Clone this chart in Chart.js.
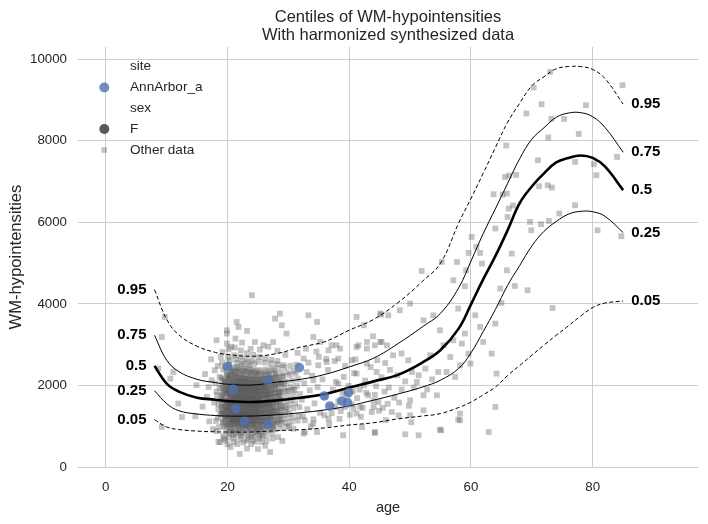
<!DOCTYPE html>
<html><head><meta charset="utf-8">
<script src="https://cdn.jsdelivr.net/npm/chart.js@4"></script>
<style>html,body{margin:0;padding:0;background:#fff}canvas{display:block}</style>
</head><body>
<canvas id="c" width="708" height="524"></canvas>
<script>
// ---------- data ----------
const ages = [8,10,12,15,18,20,24,28,32,36,40,44,48,52,55,58,60,62,64,66,68,70,72,74,76,78,80,82,85];
const c05 = [1160,981,920,880,862,858,858,890,915,960,1030,1085,1180,1250,1310,1460,1590,1770,1960,2240,2490,2740,2990,3230,3460,3700,3910,4020,4070];
const c25 = [1870,1555,1380,1300,1262,1250,1250,1280,1330,1400,1500,1640,1790,1960,2130,2420,2800,3320,3860,4450,4940,5420,5780,6020,6200,6270,6260,6150,5750];
const c50 = [2480,2045,1850,1700,1650,1615,1595,1630,1700,1790,1950,2100,2260,2560,2870,3400,3990,4600,5170,5800,6470,6880,7200,7470,7580,7640,7580,7370,6790];
const c75 = [3230,2620,2340,2150,2070,2030,2010,2080,2150,2270,2455,2670,3025,3436,3770,4400,5050,5720,6330,6950,7560,8040,8320,8575,8680,8690,8590,8330,7720];
const c95 = [4350,3620,3240,2960,2810,2760,2715,2780,2940,3075,3355,3620,4030,4550,5000,5990,6585,7200,7830,8450,8920,9350,9570,9765,9820,9820,9750,9530,8900];
const centileNames = ['0.05','0.25','0.5','0.75','0.95'];
const xTicks = [0,20,40,60,80];
const yTicks = [0,2000,4000,6000,8000,10000];
const titleLines = ['Centiles of WM-hypointensities','With harmonized synthesized data'];
const xLabel = 'age';
const yLabel = 'WM-hypointensities';

const annArbor = [[20.0,2470],[20.9,1913],[21.4,1423],[22.8,1121],[26.6,2127],[26.6,1047],[31.8,2438],[35.9,1742],[36.8,1496],[38.8,1619],[39.7,1579],[39.9,1825]];

const clusterData = [
[18.2,1850],[18.5,1420],[18.7,2210],[18.1,1130],[18.9,1650],[18.4,2480],[18.6,980],[18.3,1760],[18.8,1290],[18.0,2050],[18.5,1550],[18.9,2700],[18.2,880],[18.7,1940],[18.4,1210],
[19.1,1520],[19.4,1880],[19.7,1240],[19.2,2130],[19.9,1610],[19.5,990],[19.3,2390],[19.8,1410],[19.0,1730],[19.6,2010],[19.2,1090],[19.9,2270],[19.4,1330],[19.7,1790],[19.1,2560],[19.5,1460],[19.8,870],[19.3,1950],[19.6,1180],[19.0,2180],[19.4,1650],[19.9,1020],[19.2,2820],[19.7,1560],[19.5,2090],[19.1,1370],[19.8,1850],[19.3,760],[19.6,2460],[19.0,1290],
[20.1,1480],[20.4,1920],[20.7,1150],[20.2,2240],[20.9,1690],[20.5,1030],[20.3,2510],[20.8,1380],[20.0,1810],[20.6,2070],[20.2,1220],[20.9,2330],[20.4,1590],[20.7,1850],[20.1,2680],[20.5,1310],[20.8,910],[20.3,2000],[20.6,1440],[20.0,2190],[20.4,1710],[20.9,1080],[20.2,2890],[20.7,1620],[20.5,2150],[20.1,1260],[20.8,1980],[20.3,820],[20.6,2410],[20.0,1350],[20.4,1760],[20.9,1530],[20.2,1900],[20.7,1190],[20.5,2280],[20.1,1640],[20.8,2060],[20.3,1400],[20.6,960],[20.0,1570],[20.4,2620],[20.9,1880],[20.2,1110],[20.7,2370],[20.5,1490],
[21.1,1540],[21.4,1960],[21.7,1170],[21.2,2260],[21.9,1720],[21.5,1050],[21.3,2450],[21.8,1400],[21.0,1830],[21.6,2110],[21.2,1250],[21.9,2350],[21.4,1610],[21.7,1870],[21.1,2740],[21.5,1330],[21.8,940],[21.3,2030],[21.6,1460],[21.0,2210],[21.4,1740],[21.9,1100],[21.2,2930],[21.7,1650],[21.5,2170],[21.1,1280],[21.8,2000],[21.3,850],[21.6,2430],[21.0,1370],[21.4,1790],[21.9,1560],[21.2,1920],[21.7,1210],[21.5,2300],[21.1,1670],[21.8,2080],[21.3,1420],[21.6,1000],[21.0,1590],[21.4,2640],[21.9,1900],[21.2,1130],[21.7,2390],[21.5,1510],[21.1,710],[21.8,1300],[21.3,1680],[21.6,2550],[21.0,1060],
[22.1,1500],[22.4,1930],[22.7,1140],[22.2,2230],[22.9,1700],[22.5,1020],[22.3,2480],[22.8,1370],[22.0,1800],[22.6,2090],[22.2,1230],[22.9,2320],[22.4,1580],[22.7,1840],[22.1,2710],[22.5,1300],[22.8,920],[22.3,2010],[22.6,1430],[22.0,2180],[22.4,1720],[22.9,1070],[22.2,2860],[22.7,1630],[22.5,2140],[22.1,1270],[22.8,1970],[22.3,800],[22.6,2400],[22.0,1340],[22.4,1770],[22.9,1540],[22.2,1910],[22.7,1180],[22.5,2270],[22.1,1650],[22.8,2050],[22.3,1390],[22.6,970],[22.0,1580],[22.4,2600],[22.9,1870],[22.2,1100],[22.7,2360],[22.5,1480],[22.1,680],[22.8,1280],[22.3,1660],[22.6,2530],[22.0,1040],
[23.1,1470],[23.4,1900],[23.7,1120],[23.2,2200],[23.9,1680],[23.5,1000],[23.3,2430],[23.8,1350],[23.0,1780],[23.6,2060],[23.2,1210],[23.9,2290],[23.4,1560],[23.7,1820],[23.1,2650],[23.5,1290],[23.8,900],[23.3,1990],[23.6,1410],[23.0,2160],[23.4,1700],[23.9,1050],[23.2,2790],[23.7,1610],[23.5,2120],[23.1,1250],[23.8,1950],[23.3,780],[23.6,2380],[23.0,1320],[23.4,1750],[23.9,1520],[23.2,1890],[23.7,1160],[23.5,2250],[23.1,1630],[23.8,2030],[23.3,1370],[23.6,950],[23.0,1560],[23.4,2570],[23.9,1850],[23.2,1080],[23.7,2340],[23.5,1460],[23.1,650],[23.8,1260],[23.3,1640],[23.6,2500],[23.0,1020],
[24.1,1450],[24.4,1880],[24.7,1100],[24.2,2180],[24.9,1660],[24.5,990],[24.3,2400],[24.8,1340],[24.0,1760],[24.6,2040],[24.2,1200],[24.9,2270],[24.4,1540],[24.7,1800],[24.1,2610],[24.5,1280],[24.8,890],[24.3,1970],[24.6,1400],[24.0,2140],[24.4,1690],[24.9,1040],[24.2,2750],[24.7,1600],[24.5,2100],[24.1,1240],[24.8,1930],[24.3,770],[24.6,2360],[24.0,1310],[24.4,1740],[24.9,1510],[24.2,1870],[24.7,1150],[24.5,2230],[24.1,1620],[24.8,2010],[24.3,1360],[24.6,940],[24.0,1550],[24.4,2540],[24.9,1840],[24.2,1070],[24.7,2320],[24.5,1450],
[25.1,1430],[25.4,1860],[25.7,1090],[25.2,2160],[25.9,1650],[25.5,980],[25.3,2380],[25.8,1330],[25.0,1750],[25.6,2020],[25.2,1190],[25.9,2250],[25.4,1530],[25.7,1790],[25.1,2580],[25.5,1270],[25.8,880],[25.3,1960],[25.6,1390],[25.0,2130],[25.4,1680],[25.9,1030],[25.2,2700],[25.7,1590],[25.5,2090],[25.1,1230],[25.8,1920],[25.3,760],[25.6,2340],[25.0,1300],[25.4,1730],[25.9,1500],[25.2,1860],[25.7,1140],[25.5,2220],[25.1,1610],[25.8,2000],[25.3,1350],[25.6,930],[25.0,1540],
[26.1,1440],[26.4,1870],[26.7,1110],[26.2,2170],[26.9,1670],[26.5,1000],[26.3,2390],[26.8,1350],[26.0,1770],[26.6,2030],[26.2,1210],[26.9,2260],[26.4,1550],[26.7,1810],[26.1,2560],[26.5,1290],[26.8,900],[26.3,1980],[26.6,1410],[26.0,2150],[26.4,1700],[26.9,1060],[26.2,2660],[26.7,1610],[26.5,2110],[26.1,1250],[26.8,1940],[26.3,790],[26.6,2350],[26.0,1320],[26.4,1750],[26.9,1520],[26.2,1880],[26.7,1170],[26.5,2240],
[27.1,1460],[27.4,1890],[27.7,1130],[27.2,2190],[27.9,1690],[27.5,1020],[27.3,2410],[27.8,1370],[27.0,1790],[27.6,2050],[27.2,1230],[27.9,2280],[27.4,1570],[27.7,1830],[27.1,2540],[27.5,1310],[27.8,920],[27.3,2000],[27.6,1430],[27.0,2170],[27.4,1720],[27.9,1080],[27.2,2630],[27.7,1630],[27.5,2130],[27.1,1270],[27.8,1960],[27.3,820],[27.6,2370],[27.0,1340],
[28.1,1480],[28.4,1910],[28.7,1160],[28.2,2210],[28.9,1710],[28.5,1050],[28.3,2430],[28.8,1390],[28.0,1810],[28.6,2070],[28.2,1250],[28.9,2300],[28.4,1590],[28.7,1850],[28.1,2520],[28.5,1330],[28.8,950],[28.3,2020],[28.6,1450],[28.0,2190],[28.4,1740],[28.9,1110],[28.2,2600],[28.7,1650],[28.5,2150],
[29.1,1500],[29.4,1930],[29.7,1190],[29.2,2230],[29.9,1730],[29.5,1080],[29.3,2450],[29.8,1410],[29.0,1830],[29.6,2090],[29.2,1270],[29.9,2320],[29.4,1610],[29.7,1870],[29.1,2500],[29.5,1350],[29.8,980],[29.3,2040],[29.6,1470],[29.0,2210],
[30.1,1530],[30.4,1960],[30.7,1220],[30.2,2260],[30.9,1760],[30.5,1110],[30.3,2480],[30.8,1440],[30.0,1860],[30.6,2120],[30.2,1300],[30.9,2350],[30.4,1640],[30.7,1900],[30.1,1010],
[31.1,1560],[31.4,1990],[31.7,1250],[31.2,2290],[31.9,1790],[31.5,1140],[31.3,2510],[31.8,1470],[31.0,1890],[31.6,2150]
];

const coreData = [
[19.05,1480],[19.35,1710],[19.65,1260],[19.85,1940],[19.25,1120],[19.55,2150],[19.75,1390],[19.15,1830],[19.45,1010],[19.95,1600],
[20.05,1470],[20.35,1780],[20.65,1210],[20.85,2010],[20.25,1090],[20.55,2230],[20.75,1350],[20.15,1880],[20.45,960],[20.95,1640],[20.3,1560],[20.6,1930],[20.8,1180],[20.1,2120],[20.4,870],
[21.05,1500],[21.35,1750],[21.65,1230],[21.85,2040],[21.25,1060],[21.55,2200],[21.75,1380],[21.15,1860],[21.45,930],[21.95,1620],[21.3,1560],[21.6,1910],[21.8,1160],[21.1,2100],[21.4,820],[21.7,1440],[21.2,1690],[21.5,1300],[21.9,1990],[21.0,1150],
[22.05,1490],[22.35,1730],[22.65,1250],[22.85,2020],[22.25,1080],[22.55,2180],[22.75,1360],[22.15,1850],[22.45,950],[22.95,1610],[22.3,1570],[22.6,1900],[22.8,1170],[22.1,2090],[22.4,840],[22.7,1450],[22.2,1700],[22.5,1310],[22.9,1980],[22.0,1140],
[23.05,1470],[23.35,1720],[23.65,1240],[23.85,2000],[23.25,1070],[23.55,2160],[23.75,1340],[23.15,1830],[23.45,940],[23.95,1590],[23.3,1550],[23.6,1880],[23.8,1150],[23.1,2070],[23.4,830],[23.7,1430],[23.2,1680],[23.5,1290],[23.9,1960],[23.0,1130],
[24.05,1460],[24.35,1700],[24.65,1220],[24.85,1980],[24.25,1060],[24.55,2140],[24.75,1330],[24.15,1810],[24.45,930],[24.95,1580],[24.3,1540],[24.6,1870],[24.8,1140],[24.1,2050],[24.4,820],[24.7,1420],[24.2,1670],[24.5,1280],[24.9,1950],[24.0,1120],
[25.05,1450],[25.35,1690],[25.65,1210],[25.85,1970],[25.25,1050],[25.55,2120],[25.75,1320],[25.15,1800],[25.45,920],[25.95,1570],[25.3,1530],[25.6,1860],[25.8,1130],[25.1,2040],[25.4,810],
[26.05,1460],[26.35,1700],[26.65,1230],[26.85,1990],[26.25,1070],[26.55,2150],[26.75,1340],[26.15,1820],[26.45,940],[26.95,1590],[26.3,1550],[26.6,1880],
[27.05,1480],[27.35,1720],[27.65,1250],[27.85,2010],[27.25,1090],[27.55,2170],[27.75,1360],[27.15,1840],[27.45,960],[27.95,1610],
[28.05,1500],[28.35,1740],[28.65,1270],[28.85,2030],[28.25,1110],[28.55,1860],
[19.6,650],[20.2,720],[21.6,560],[22.6,600],[23.4,690],[24.6,620],[25.2,700],[26.4,650],[20.9,780],[22.2,760],[23.9,740],[25.8,760],[27.4,700],[21.9,880],[24.9,860],
[19.15,1320],[19.45,1560],[19.75,2060],[19.25,1780],[19.55,1150],[19.85,2320],[19.35,1430],[19.65,1890],[19.95,1250],[19.05,2000],
[20.15,1360],[20.45,1610],[20.75,2090],[20.25,1810],[20.55,1170],[20.85,2350],[20.35,1460],[20.65,1910],[20.95,1270],[20.05,2030],[20.2,1050],[20.5,1720],[20.8,1540],[20.3,2180],[20.6,1320],
[21.15,1340],[21.45,1590],[21.75,2070],[21.25,1790],[21.55,1190],[21.85,2330],[21.35,1480],[21.65,1930],[21.95,1290],[21.05,2010],[21.2,1070],[21.5,1740],[21.8,1520],[21.3,2200],[21.6,1340],[21.9,1640],[21.1,1890],[21.4,1210],
[22.15,1350],[22.45,1600],[22.75,2080],[22.25,1800],[22.55,1160],[22.85,2340],[22.35,1470],[22.65,1920],[22.95,1260],[22.05,2000],[22.2,1060],[22.5,1730],[22.8,1530],[22.3,2190],[22.6,1330],[22.9,1650],[22.1,1880],[22.4,1220],
[23.15,1330],[23.45,1580],[23.75,2050],[23.25,1770],[23.55,1140],[23.85,2310],[23.35,1450],[23.65,1900],[23.95,1240],[23.05,1980],[23.2,1040],[23.5,1710],[23.8,1510],[23.3,2170],[23.6,1310],[23.9,1630],[23.1,1860],[23.4,1200],
[24.15,1320],[24.45,1570],[24.75,2040],[24.25,1760],[24.55,1130],[24.85,2290],[24.35,1440],[24.65,1890],[24.95,1230],[24.05,1970],[24.2,1030],[24.5,1700],[24.8,1500],[24.3,2160],[24.6,1300],[24.9,1620],
[25.15,1310],[25.45,1560],[25.75,2030],[25.25,1750],[25.55,1120],[25.85,2280],[25.35,1430],[25.65,1880],[25.95,1220],[25.05,1960],[25.2,1020],[25.5,1690],[25.8,1490],[25.3,2150],
[26.15,1320],[26.45,1570],[26.75,2040],[26.25,1760],[26.55,1130],[26.85,2290],[26.35,1440],[26.65,1890],[26.95,1230],[26.05,1970],[26.5,1700],[26.8,1500],
[27.15,1340],[27.45,1590],[27.75,2060],[27.25,1780],[27.55,1150],[27.85,2300],[27.35,1460],[27.65,1910],
[28.15,1360],[28.45,1610],[28.75,2080],[28.25,1800],[28.55,1170],[28.85,1480]
];

const sparseData = [
[8.6,2414],[9.7,3680],[9.2,3189],[11.1,2330],[10.6,2168],[14.9,2004],[11.9,1555],[12.5,1226],[14.7,1244],[9.2,981],[17.9,2372],[17.4,2127],[16.6,1720],[15.9,1480],[17.0,1120],[17.3,2640],[16.3,2280],[17.6,930],[17.8,1580],[16.9,1960],
[18.2,3108],[19.9,3272],[19.9,3027],[21.5,3557],[21.8,3434],[23.2,3336],[24.0,4212],[24.5,3066],[25.9,2985],[19.9,3353],[27.8,3640],[28.6,3763],[33.3,3721],[34.7,3557],[29.7,3272],[27.5,3066],[34.1,3189],[37.9,2985],[28.9,3476],[35.2,3066],[36.6,2862],[38.5,2904],[37.1,2985],[41.2,3680],[42.9,2904],[45.1,3763],[46.4,3721],[44.2,2985],[41.5,2985],[32.5,2659],[34.9,2495],[36.3,2576],[38.2,2659],[40.4,2617],[41.2,2291],[42.9,2536],[44.5,2330],[38.2,2045],[33.0,2330],[34.1,2127],
[20.6,2950],[22.4,3050],[23.8,2900],[25.3,2880],[26.7,2950],[28.2,2850],[21.3,3150],[29.5,2750],
[18.8,613],[20.0,557],[27.3,981],[27.0,368],[23.2,451],[21.0,613],[18.5,613],[24.2,655],[25.6,613],[28.3,736],[32.5,819],[34.7,859],[39.0,778],[40.7,1432],[32.7,1145],[36.6,1187],[37.7,1472],[39.3,1472],[41.2,1310],[41.8,1472],[44.0,1472],[44.8,1594],[42.1,981],[44.2,858],[32.7,858],[34.1,1064],[30.8,941],[22.0,320],[25.0,440],[20.5,490],[26.2,520],[23.9,560],[19.4,700],[29.0,640],
[32.2,1650],[32.6,2050],[33.1,1420],[33.5,1880],[33.9,2240],[34.3,1560],[34.8,1960],[35.2,1330],[35.6,2150],[36.0,1720],[36.5,2380],[36.9,1480],[37.3,1900],[37.8,2090],[38.2,1610],[38.6,1370],[39.1,2210],[39.5,1780],[39.9,1990],[40.4,1540],[40.8,2300],[41.3,1690],[41.7,1900],[42.2,1450],[42.6,2120],[43.1,1760],[43.5,2450],[44.0,1620],[44.4,1980],[44.9,1380],[45.3,2200],[45.8,1850],[46.3,1550],[46.7,2380],[32.4,1240],[33.3,2560],[34.1,1170],[35.0,2700],[35.9,1270],[36.7,1060],[37.6,2600],[38.4,1180],[39.3,2480],[40.1,1280],[41.0,2640],[41.9,1230],[42.8,1820],[43.7,1350],[44.6,2620],[45.5,1450],[46.5,1950],[47.4,1700],[47.9,2250],[48.6,1900],[49.2,2100],[49.8,1500],[31.5,2800],[32.9,2900],[33.7,1000],[34.6,2830],[36.2,2650],[37.1,1320],[38.9,1820],[40.6,1860],[42.4,2000],[44.2,1770],[45.9,2550],[47.0,1350],[48.2,1580],[50.6,1950],[51.4,2250],[52.8,1900],[53.6,2150],[50.2,1100],[46.0,1150],
[63.7,6689],[65.9,6706],[66.2,6338],[64.0,5848],[60.1,5642],[59.6,5250],[61.5,5250],[61.8,4989],[57.7,5029],[55.2,5029],[51.9,4808],[57.1,4580],[59.0,4433],[65.9,4825],[64.8,4376],[50.0,4008],[48.3,3844],[53.8,3721],[57.9,3885],[60.7,3721],[64.0,3517],[52.2,3598],[54.9,3353],[59.0,3272],[61.5,3434],[62.0,3066],[63.4,2781],[57.1,3108],[58.5,3027],[59.6,2781],[55.5,2985],[53.3,2740],[56.6,2698],[59.9,2536],[58.2,2495],[52.5,2414],[49.7,2617],[50.3,2330],[54.6,2330],[56.0,2330],[57.4,2208],[51.1,2085],[48.6,2781],[47.2,2740],[46.2,2985],[45.1,3066],[54.4,1759],[52.2,1759],[50.0,1636],[52.2,1391],[50.0,1268],[48.1,1268],[58.2,1310],[58.2,1145],[54.9,917],[51.4,778],[49.2,802],[62.9,858],[64.0,1472],[64.2,2291],[73.4,3900],[65.0,4023],[67.2,4440],[69.3,4335],[45.2,3739],[42.4,3476],[43.9,3206],[45.3,3066],[42.9,3066],[41.2,2944],[55.1,900],[44.2,834],[57.9,1163],[60.9,5396],[66.7,5234],[59.2,4825],
[73.0,9689],[70.3,9307],[71.6,8897],[69.1,8669],[73.2,8537],[75.3,8537],[78.9,8873],[84.9,9363],[77.7,8168],[72.7,8080],[65.8,7884],[84.0,7604],[71.0,7523],[77.1,7481],[80.2,7425],[80.6,7155],[65.6,7114],[66.3,7148],[67.4,7163],[71.2,6886],[72.6,6910],[73.3,6853],[65.2,6681],[66.9,6412],[66.0,6133],[77.1,6420],[74.5,6215],[69.7,6010],[71.5,5953],[72.8,6035],[69.9,5806],[80.8,5806],[84.7,5659]
];

// ---------- styling ----------
const FONT = "'Liberation Sans', Arial, Helvetica, sans-serif";
const TXT = '#262626';
const GRAY = 'rgba(90,90,90,0.36)';
const BLUE = 'rgba(76,114,176,0.8)';
const centileSeries = [c05, c25, c50, c75, c95];
const lineWidths = [1, 1, 2.6, 1, 1];
const lineDashes = [[4,2.5], [], [], [], [4,2.5]];

const toXY = arr => arr.map(p => ({x: p[0], y: p[1]}));

const datasets = centileSeries.map((c, i) => ({
  type: 'line',
  label: centileNames[i],
  data: ages.map((a, j) => ({x: a, y: c[j]})),
  borderColor: '#000',
  borderWidth: lineWidths[i],
  borderDash: lineDashes[i],
  pointRadius: 0,
  fill: false,
  tension: 0.4,
  order: 5
}));
datasets.push({
  type: 'scatter', label: 'Other data',
  data: toXY(sparseData.concat(clusterData, coreData)),
  pointStyle: 'rect', pointRadius: 4.1,
  backgroundColor: GRAY, borderWidth: 0, order: 10
});
datasets.push({
  type: 'scatter', label: 'AnnArbor_a',
  data: toXY(annArbor),
  pointStyle: 'circle', pointRadius: 4.8,
  backgroundColor: BLUE, borderWidth: 0, order: 1
});

const decorPlugin = {
  id: 'decor',
  afterDatasetsDraw(chart) {
    const ctx = chart.ctx, xs = chart.scales.x, ys = chart.scales.y;
    ctx.save();
    ctx.fillStyle = '#000';
    ctx.font = "bold 15px " + FONT;
    ctx.textBaseline = 'middle';
    centileSeries.forEach((c, i) => {
      ctx.textAlign = 'right';
      ctx.fillText(centileNames[i], xs.getPixelForValue(ages[0]) - 8, ys.getPixelForValue(c[0]));
      ctx.textAlign = 'left';
      ctx.fillText(centileNames[i], xs.getPixelForValue(ages[ages.length-1]) + 8, ys.getPixelForValue(c[c.length-1]));
    });
    ctx.restore();
  },
  afterDraw(chart) {
    const ctx = chart.ctx, ca = chart.chartArea;
    ctx.save();
    ctx.fillStyle = TXT;
    ctx.font = "16.5px " + FONT;
    ctx.textAlign = 'center';
    ctx.textBaseline = 'middle';
    const cx = (ca.left + ca.right) / 2;
    ctx.fillText(titleLines[0], cx, 17);
    ctx.fillText(titleLines[1], cx, 35);
    const lx = 104.3, tx = 130;
    const rows = [
      {t: 'site', m: null, y: 66},
      {t: 'AnnArbor_a', m: 'blue', y: 87.5},
      {t: 'sex', m: null, y: 108.5},
      {t: 'F', m: 'dark', y: 129},
      {t: 'Other data', m: 'sq', y: 150}
    ];
    ctx.font = "13.6px " + FONT;
    ctx.textAlign = 'left';
    rows.forEach(r => {
      if (r.m === 'blue') { ctx.fillStyle = BLUE; ctx.beginPath(); ctx.arc(lx, r.y, 5, 0, Math.PI*2); ctx.fill(); }
      if (r.m === 'dark') { ctx.fillStyle = 'rgba(60,60,60,0.85)'; ctx.beginPath(); ctx.arc(lx, r.y, 5, 0, Math.PI*2); ctx.fill(); }
      if (r.m === 'sq') { ctx.fillStyle = GRAY; ctx.fillRect(lx-2.8, r.y-2.8, 5.6, 5.6); }
      ctx.fillStyle = TXT;
      ctx.fillText(r.t, tx, r.y);
    });
    ctx.restore();
  }
};

new Chart(document.getElementById('c'), {
  type: 'scatter',
  data: {datasets},
  plugins: [decorPlugin],
  options: {
    responsive: false, animation: false, devicePixelRatio: 1,
    layout: {padding: {top: 47, right: 10, left: 0, bottom: 0}},
    plugins: {legend: {display: false}, tooltip: {enabled: false}, title: {display: false}},
    scales: {
      x: {
        type: 'linear', min: -4.57, max: 97.3,
        afterBuildTicks: s => { s.ticks = xTicks.map(v => ({value: v})); },
        afterFit: s => { s.height = 57; },
        grid: {color: '#cccccc', lineWidth: 1, drawTicks: false},
        border: {display: false},
        ticks: {padding: 12, color: TXT, font: {family: FONT, size: 13.3}, callback: v => String(v)},
        title: {display: true, text: xLabel, color: TXT, font: {family: FONT, size: 14.5}, padding: {top: 0, bottom: 7}}
      },
      y: {
        type: 'linear', min: 0, max: 10300,
        afterBuildTicks: s => { s.ticks = yTicks.map(v => ({value: v})); },
        afterFit: s => { s.width = 78; },
        grid: {color: '#cccccc', lineWidth: 1, drawTicks: false},
        border: {display: false},
        ticks: {padding: 11, color: TXT, font: {family: FONT, size: 13.3}, callback: v => String(v)},
        title: {display: true, text: yLabel, color: TXT, font: {family: FONT, size: 16.6}, padding: {top: 6.7, bottom: 0}}
      }
    }
  }
});
</script>
</body></html>
